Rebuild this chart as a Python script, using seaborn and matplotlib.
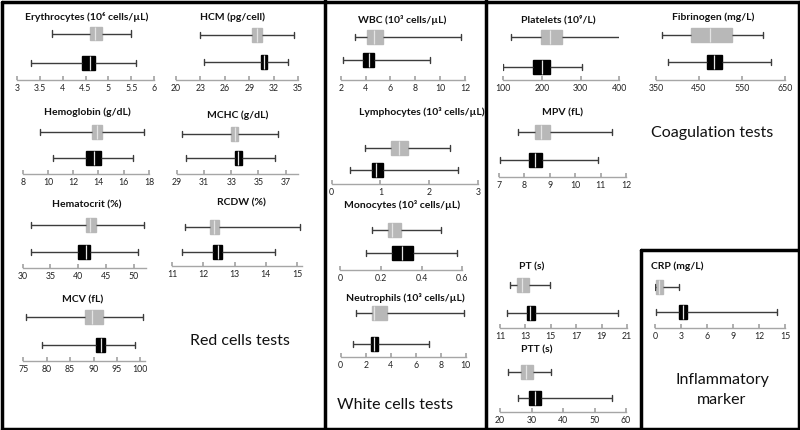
import pandas as pd
import matplotlib.pyplot as plt
import numpy as np
import seaborn as sns

# five-number summaries: whisker low, Q1, median, Q3, whisker high
titles = ["Erythrocytes (10⁶ cells/µL)", "HCM (pg/cell)", "Hemoglobin (g/dL)", "MCHC (g/dL)",
          "Hematocrit (%)", "RCDW (%)", "MCV (fL)",
          "WBC (10³ cells/µL)", "Lymphocytes (10³ cells/µL)", "Monocytes (10³ cells/µL)",
          "Neutrophils (10³ cells/µL)",
          "Platelets (10⁹/L)", "MPV (fL)", "PT (s)", "PTT (s)", "Fibrinogen (mg/L)", "CRP (mg/L)"]

grey_summary = [
    [3.77, 4.59, 4.70, 4.86, 5.50],
    [22.9, 29.4, 30.0, 30.6, 34.5],
    [9.4, 13.5, 13.85, 14.25, 17.6],
    [29.4, 33.0, 33.3, 33.5, 36.4],
    [31.5, 41.4, 42.1, 43.2, 51.9],
    [11.4, 12.2, 12.35, 12.5, 15.1],
    [75.5, 88.2, 89.7, 92.1, 100.6],
    [3.15, 4.15, 4.7, 5.4, 11.7],
    [0.68, 1.22, 1.38, 1.56, 2.43],
    [0.155, 0.234, 0.253, 0.298, 0.495],
    [1.2, 2.5, 2.7, 3.7, 9.9],
    [120, 197, 220, 252, 402],
    [7.75, 8.4, 8.65, 9.0, 11.45],
    [11.8, 12.3, 12.7, 13.3, 14.9],
    [22.5, 26.7, 28.3, 30.5, 36.2],
    [364, 432, 476, 526, 598],
    [0.0, 0.1, 0.5, 0.9, 2.8],
]

black_summary = [
    [3.31, 4.43, 4.59, 4.71, 5.60],
    [23.4, 30.4, 30.8, 31.2, 33.8],
    [10.4, 13.0, 13.65, 14.2, 16.7],
    [29.7, 33.3, 33.5, 33.8, 36.2],
    [31.5, 39.9, 41.4, 42.2, 50.8],
    [11.3, 12.32, 12.48, 12.59, 14.3],
    [78.9, 90.6, 91.5, 92.4, 98.8],
    [2.2, 3.8, 4.28, 4.68, 9.18],
    [0.38, 0.82, 0.92, 1.06, 2.6],
    [0.126, 0.253, 0.302, 0.36, 0.572],
    [1.0, 2.43, 2.69, 3.0, 7.1],
    [100, 176, 201, 222, 304],
    [7.04, 8.18, 8.42, 8.69, 10.9],
    [11.55, 13.1, 13.4, 13.75, 20.3],
    [25.7, 29.2, 31.1, 33.0, 55.6],
    [378, 469, 486, 504, 617],
    [0.1, 2.8, 3.2, 3.7, 14.1],
]

tick_values = [
    [3, 3.5, 4, 4.5, 5, 5.5, 6],
    [20, 23, 26, 29, 32, 35],
    [8, 10, 12, 14, 16, 18],
    [29, 31, 33, 35, 37],
    [30, 35, 40, 45, 50],
    [11, 12, 13, 14, 15],
    [75, 80, 85, 90, 95, 100],
    [2, 4, 6, 8, 10, 12],
    [0, 1, 2, 3],
    [0, 0.2, 0.4, 0.6],
    [0, 2, 4, 6, 8, 10],
    [100, 200, 300, 400],
    [7, 8, 9, 10, 11, 12],
    [11, 13, 15, 17, 19, 21],
    [20, 30, 40, 50, 60],
    [350, 450, 550, 650],
    [0, 3, 6, 9, 12, 15],
]
axis_end = [6, 35, 18, 37.9, 52.2, 15.15, 101, 12, 3, 0.6, 10, 400, 12, 21, 60, 650, 15]

# layout in pixels: x of first tick, x of axis end, axis y, black box y, grey box y, title x, title y
layout = [
    (17, 154, 80, 63, 33.5, 87, 17),
    (176, 298, 80, 62, 35, 233, 17),
    (22.7, 149, 174, 158, 132, 87, 112),
    (176.7, 298, 174, 158, 134, 238, 115),
    (22.7, 146, 268, 252, 225, 87, 205),
    (172.3, 301.7, 266, 252, 227, 241, 203),
    (23.3, 145, 361, 345, 317, 83, 300),
    (340.7, 465, 80, 60, 37, 402, 20),
    (331.7, 477.7, 184, 170, 148, 422, 112),
    (340, 462.3, 270, 253, 230, 402, 205),
    (340.7, 465.7, 357, 344, 313, 405, 298),
    (503.3, 619.3, 80, 67, 37, 558, 20),
    (499, 626, 177, 160, 132, 563, 113),
    (500, 627, 328, 313, 285, 532, 267),
    (500, 626, 412, 398, 372, 537, 350),
    (656, 785, 80, 62, 35, 713, 17),
    (655, 785, 328, 312, 287, 677, 266),
]

sns.set_theme(style="white")
plt.rcParams['font.family'] = ['Lato', 'DejaVu Sans']

W, H = 800, 430
fig = plt.figure(figsize=(8, 4.3), dpi=100)
palette = {"grey": "#b8b8b8", "black": "#000000"}

for i, title in enumerate(titles):
    x0, x1, yb, yk, yg, tx, ty = layout[i]
    unit = yk - yg
    top_px = yg - 0.6 * unit
    ax = fig.add_axes([x0 / W, 1 - yb / H, (x1 - x0) / W, (yb - top_px) / H])
    df = pd.DataFrame({"value": grey_summary[i] + black_summary[i],
                       "group": ["grey"] * 5 + ["black"] * 5})
    sns.boxplot(data=df, x="value", y="group", hue="group", order=["grey", "black"],
                palette=palette, legend=False, whis=(0, 100), width=13.5 / unit,
                linecolor="#3c3c3c", linewidth=1, saturation=1,
                medianprops=dict(color="#e4e4e4", linewidth=0.9), ax=ax)
    for patch in ax.patches:
        patch.set_edgecolor(patch.get_facecolor())
    ax.set_xlim(tick_values[i][0], axis_end[i])
    ax.set_ylim(1 + (yb - yk) / unit, -0.6)
    ax.set_xticks(tick_values[i])
    ax.set_xticklabels(['{:g}'.format(t) for t in tick_values[i]])
    ax.set_yticks([])
    ax.set_xlabel('')
    ax.set_ylabel('')
    for s in ['left', 'top', 'right']:
        ax.spines[s].set_visible(False)
    ax.spines['bottom'].set_color('#a6a6a6')
    ax.spines['bottom'].set_linewidth(1)
    ax.tick_params(axis='x', direction='in', length=3, color='#a6a6a6',
                   labelsize=6.3, pad=3, labelcolor='#222222', bottom=True)
    ax.patch.set_alpha(0)
    fig.text(tx / W, 1 - ty / H, title, ha='center', va='center',
             fontsize=7.5, fontweight='bold', color='#111111')

# section labels
sections = [("Red cells tests", 240, 341), ("White cells tests", 395, 405),
            ("Coagulation tests", 712, 133), ("Inflammatory\nmarker", 722, 390)]
for text, sx, sy in sections:
    fig.text(sx / W, 1 - sy / H, text, ha='center', va='center', fontsize=11.5,
             color='#111111', linespacing=1.5)

# panel borders
borders = [
    ((1.5, 1.5), (1.5, 428.5)), ((798.5, 798.5), (1.5, 428.5)),
    ((1.5, 798.5), (1.5, 1.5)), ((1.5, 798.5), (428.5, 428.5)),
    ((325, 325), (0, 430)), ((486, 486), (0, 430)),
    ((641, 641), (250, 430)), ((641, 800), (250, 250)),
]
for xs, ys in borders:
    fig.add_artist(plt.Line2D([x / W for x in xs], [1 - y / H for y in ys],
                              transform=fig.transFigure, color='black', lw=2.5))

plt.savefig("out.png", dpi=100)
